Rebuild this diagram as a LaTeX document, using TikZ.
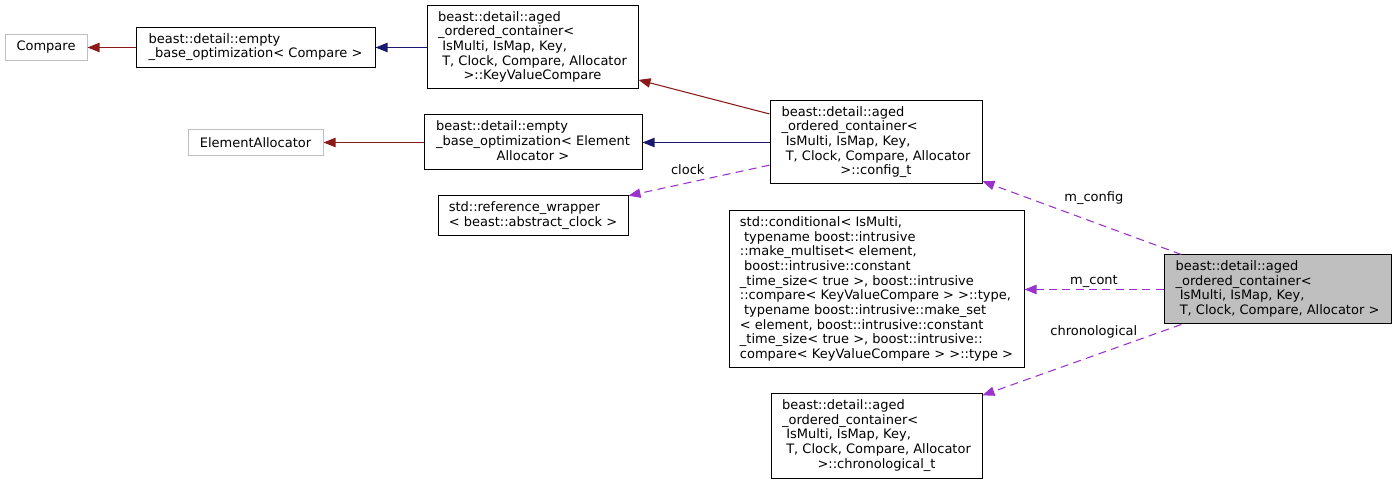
\documentclass[tikz,border=0pt]{standalone}
\usepackage{fontspec}
\setmainfont{DejaVu Sans}
\usetikzlibrary{arrows.meta}
\definecolor{inhred}{HTML}{8B1A1A}
\definecolor{inhblue}{HTML}{191970}
\definecolor{usepurple}{HTML}{9A32CD}
% left-aligned class label, with a centred last line
\newcommand{\lines}[1]{\begin{tabular}{@{}l@{}}#1\end{tabular}}
\newcommand{\ctr}[1]{\multicolumn{1}{@{}c@{}}{#1}}

\begin{document}
\begin{tikzpicture}[
  x=0.75pt, y=-0.75pt,
  cls/.style={draw=black, line width=0.75pt, fill=white, inner sep=0pt,
              font=\fontsize{9.75}{11}\selectfont},
  ext/.style={cls, draw=gray!50},
  cur/.style={cls, fill=gray!50},
  wh/.style 2 args={minimum width={#1*0.75pt}, minimum height={#2*0.75pt}},
  inh/.style={-{Triangle[length=9pt,width=7pt]}, line width=0.8pt, draw=inhblue},
  priv/.style={inh, draw=inhred},
  use/.style={inh, draw=usepurple, dash pattern=on 6pt off 4pt},
  lbl/.style={font=\fontsize{9.75}{11}\selectfont, inner sep=1pt}
]
\useasboundingbox (0,0) rectangle (1396,484);

\node[ext, wh={82}{26}]   (cmp)       at (46,47.5)    {Compare};
\node[cls, wh={239}{40}]  (eboCmp)    at (255.5,47.5) {\lines{beast::detail::empty\\\_base\_optimization< Compare >}};
\node[cls, wh={211}{83}]  (kvc)       at (532.5,47.5) {\lines{beast::detail::aged\\\_ordered\_container<\\~IsMulti, IsMap, Key,\\~T, Clock, Compare, Allocator\\\ctr{>::KeyValueCompare}}};
\node[ext, wh={135}{26}]  (elemAlloc) at (255.5,142.5) {ElementAllocator};
\node[cls, wh={218}{55}]  (eboAlloc)  at (533,142.5)  {\lines{beast::detail::empty\\\_base\_optimization< Element\\\ctr{Allocator >}}};
\node[cls, wh={190}{40}]  (refw)      at (533,216)    {\lines{std::reference\_wrapper\\< beast::abstract\_clock >}};
\node[cls, wh={212}{83}]  (cfg)       at (876,142.5)  {\lines{beast::detail::aged\\\_ordered\_container<\\~IsMulti, IsMap, Key,\\~T, Clock, Compare, Allocator\\\ctr{>::config\_t}}};
\node[cls, wh={295}{157}] (cond)      at (876.5,289.5) {\lines{std::conditional< IsMulti,\\~typename boost::intrusive\\::make\_multiset< element,\\~boost::intrusive::constant\\\_time\_size< true >, boost::intrusive\\::compare< KeyValueCompare > >::type,\\~typename boost::intrusive::make\_set\\< element, boost::intrusive::constant\\\_time\_size< true >, boost::intrusive::\\compare< KeyValueCompare > >::type >}};
\node[cls, wh={211}{84}]  (chrono)    at (876.5,436)  {\lines{beast::detail::aged\\\_ordered\_container<\\~IsMulti, IsMap, Key,\\~T, Clock, Compare, Allocator\\\ctr{>::chronological\_t}}};
\node[cur, wh={227}{69}]  (main)      at (1277.5,289.5) {\lines{beast::detail::aged\\\_ordered\_container<\\~IsMulti, IsMap, Key,\\~T, Clock, Compare, Allocator >}};

\draw[priv] (eboCmp) -- (cmp);
\draw[inh]  (kvc) -- (eboCmp);
\draw[priv] (cfg.165.5) -- (kvc.-17);
\draw[inh]  (cfg) -- (eboAlloc);
\draw[priv] (eboAlloc) -- (elemAlloc);

\draw[use] (cfg.192)  -- node[lbl, pos=0.58, yshift=9.7pt] (clockLbl) {clock} (refw.12);
\draw[use] (main.160) -- node[lbl, pos=0.44, yshift=18pt] (cfgLbl) {m\_config} (cfg.-20);
\draw[use] (main)     -- node[lbl, above] (contLbl) {m\_cont} (cond);
\draw[use] (main.200) -- node[lbl, pos=0.44, yshift=18pt] (chronoLbl) {chronological} (chrono.21);
\end{tikzpicture}
\end{document}
